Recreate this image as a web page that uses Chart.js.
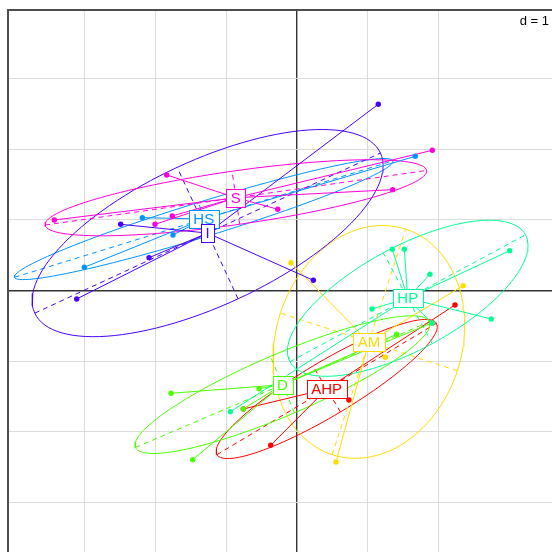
<!DOCTYPE html>
<html>
<head>
<meta charset="utf-8">
<title>s.class</title>
<script src="https://cdn.jsdelivr.net/npm/chart.js@4"></script>
<style>
  html, body { margin: 0; padding: 0; background: #ffffff; }
  canvas { display: block; }
</style>
</head>
<body>
<canvas id="plot" width="552" height="552"></canvas>
<script>
// Class levels and the colour used for each one
const classNames  = ['AHP', 'AM', 'D', 'HP', 'HS', 'I', 'S'];
const classColors = ['#FF0000', '#FFDB00', '#49FF00', '#00FF92', '#0092FF', '#4900FF', '#FF00DB'];

// Row scores (first two axes) and the class of every row
const scoreX = [
  -0.760, -0.372, 0.735, 2.235, 0.262,
  -0.085, 2.352, 1.249, 0.552,
  -1.782, -0.537, -1.475, 1.410, 1.909, -0.760,
  1.348, 1.518, 1.881, 3.008, 1.061, 2.748, 1.909, -0.943,
  -2.188, -1.754, -3.008, 1.673,
  -2.494, -2.093, -3.116, 1.150, 0.231,
  -3.433, -1.843, -1.764, -2.008, 1.914, 1.354, -0.273
];
const scoreY = [
  -1.676, -2.190, -1.549, -0.205, -1.347,
  0.393, 0.068, -0.945, -2.426,
  -1.454, -1.389, -2.393, -0.620, -0.460, -1.676,
  0.583, 0.583, 0.229, 0.563, -0.262, -0.403, -0.460, -1.714,
  1.030, 0.785, 0.328, 1.898,
  0.936, 0.464, -0.120, 2.634, 0.144,
  0.997, 1.634, 1.054, 0.936, 1.983, 1.426, 1.149
];
const scoreClass = [
  'AHP', 'AHP', 'AHP', 'AHP', 'AHP',
  'AM', 'AM', 'AM', 'AM',
  'D', 'D', 'D', 'D', 'D', 'D',
  'HP', 'HP', 'HP', 'HP', 'HP', 'HP', 'HP', 'HP',
  'HS', 'HS', 'HS', 'HS',
  'I', 'I', 'I', 'I', 'I',
  'S', 'S', 'S', 'S', 'S', 'S', 'S'
];

// Grid mesh size shown in the corner
const gridStep = 1;
// Ellipse size in standard deviations
const ellipseSize = 1.5;

// ---- per-class summaries: centroid, covariance ellipse, its axes ----
function classSummary(name) {
  const xs = [], ys = [];
  scoreClass.forEach((c, i) => { if (c === name) { xs.push(scoreX[i]); ys.push(scoreY[i]); } });
  const n = xs.length;
  const mx = xs.reduce((s, v) => s + v, 0) / n;
  const my = ys.reduce((s, v) => s + v, 0) / n;
  let sxx = 0, syy = 0, sxy = 0;
  for (let i = 0; i < n; i++) {
    const dx = xs[i] - mx, dy = ys[i] - my;
    sxx += dx * dx; syy += dy * dy; sxy += dx * dy;
  }
  sxx /= n; syy /= n; sxy /= n;
  const half = (sxx + syy) / 2;
  const root = Math.sqrt(((sxx - syy) / 2) ** 2 + sxy ** 2);
  const l1 = half + root, l2 = Math.max(half - root, 0);
  const th = 0.5 * Math.atan2(2 * sxy, sxx - syy);
  const a = ellipseSize * Math.sqrt(l1), b = ellipseSize * Math.sqrt(l2);
  const c = Math.cos(th), s = Math.sin(th);
  const ellipse = [];
  for (let k = 0; k <= 120; k++) {
    const t = 2 * Math.PI * k / 120;
    const u = a * Math.cos(t), v = b * Math.sin(t);
    ellipse.push({ x: mx + u * c - v * s, y: my + u * s + v * c });
  }
  const gap = { x: null, y: null };
  const axes = [
    { x: mx - a * c, y: my - a * s }, { x: mx + a * c, y: my + a * s }, gap,
    { x: mx + b * s, y: my - b * c }, { x: mx - b * s, y: my + b * c }
  ];
  const star = [];
  xs.forEach((x, i) => {
    if (i > 0) star.push(gap);
    star.push({ x: mx, y: my }, { x: x, y: ys[i] });
  });
  const pts = xs.map((x, i) => ({ x: x, y: ys[i] }));
  return { name, mx, my, ellipse, axes, star, pts };
}

const summaries = classNames.map(classSummary);

const datasets = [];
summaries.forEach((g, i) => {
  const col = classColors[i];
  const rank = classNames.length - i;
  datasets.push({
    type: 'scatter', data: g.pts, showLine: false,
    pointRadius: 2.7, pointHoverRadius: 2.7, pointBackgroundColor: col, pointBorderWidth: 0,
    order: rank
  });
  datasets.push({
    type: 'scatter', data: g.star, showLine: true, spanGaps: false,
    borderColor: col, borderWidth: 1, pointRadius: 0, fill: false,
    order: 100 + rank
  });
  datasets.push({
    type: 'scatter', data: g.axes, showLine: true, spanGaps: false,
    borderColor: col, borderWidth: 1, borderDash: [5, 4], pointRadius: 0, fill: false,
    order: 200 + rank
  });
  datasets.push({
    type: 'scatter', data: g.ellipse, showLine: true,
    borderColor: col, borderWidth: 1, pointRadius: 0, fill: false, tension: 0,
    order: 200 + rank
  });
});

// Frame on the left and top edges, class labels and the grid size note
const decorations = {
  id: 'decorations',
  beforeDatasetsDraw(chart) {
    const { ctx, chartArea: a } = chart;
    ctx.save();
    ctx.strokeStyle = '#4d4d4d';
    ctx.lineWidth = 2;
    ctx.beginPath();
    ctx.moveTo(a.left, a.bottom + 2);
    ctx.lineTo(a.left, a.top);
    ctx.lineTo(a.right + 2, a.top);
    ctx.stroke();
    ctx.restore();
  },
  afterDatasetsDraw(chart) {
    const { ctx, scales } = chart;
    ctx.save();
    ctx.font = '15px "Liberation Sans", Arial, sans-serif';
    ctx.textAlign = 'center';
    ctx.textBaseline = 'middle';
    summaries.forEach((g, i) => {
      const px = scales.x.getPixelForValue(g.mx);
      const py = scales.y.getPixelForValue(g.my);
      const w = ctx.measureText(g.name).width + 9;
      const h = 18;
      ctx.fillStyle = '#ffffff';
      ctx.fillRect(px - w / 2, py - h / 2, w, h);
      ctx.strokeStyle = classColors[i];
      ctx.lineWidth = 1;
      ctx.strokeRect(Math.round(px - w / 2) + 0.5, Math.round(py - h / 2) + 0.5, Math.round(w), h);
      ctx.fillStyle = classColors[i];
      ctx.fillText(g.name, px, py + 1);
    });
    ctx.font = '13px "Liberation Sans", Arial, sans-serif';
    ctx.textAlign = 'right';
    ctx.textBaseline = 'alphabetic';
    ctx.fillStyle = '#000000';
    ctx.fillText('d = ' + gridStep, 549, 25);
    ctx.restore();
  }
};

function onGrid(v) { return Math.abs(v / gridStep - Math.round(v / gridStep)) < 1e-9; }
const gridColor = c => {
  const v = c.tick.value;
  if (!onGrid(v)) return 'rgba(0,0,0,0)';
  return Math.abs(v) < 1e-9 ? '#333333' : '#dcdcdc';
};
const gridWidth = c => Math.abs(c.tick.value) < 1e-9 ? 1.4 : 1;

new Chart(document.getElementById('plot'), {
  type: 'scatter',
  data: { datasets },
  options: {
    responsive: false,
    animation: false,
    devicePixelRatio: 1,
    events: [],
    layout: { autoPadding: false, padding: { left: 8, top: 10, right: 0, bottom: 0 } },
    plugins: { legend: { display: false }, tooltip: { enabled: false } },
    scales: {
      x: {
        type: 'linear', position: 'bottom',
        min: -4.088, max: 3.607,
        afterFit: s => { s.height = 0; },
        ticks: { display: false, stepSize: gridStep },
        grid: { color: gridColor, lineWidth: gridWidth, drawTicks: false },
        border: { display: false }
      },
      y: {
        type: 'linear', position: 'left',
        min: -3.699, max: 3.967,
        afterFit: s => { s.width = 0; },
        ticks: { display: false, stepSize: gridStep },
        grid: { color: gridColor, lineWidth: gridWidth, drawTicks: false },
        border: { display: false }
      }
    }
  },
  plugins: [decorations]
});
</script>
</body>
</html>
